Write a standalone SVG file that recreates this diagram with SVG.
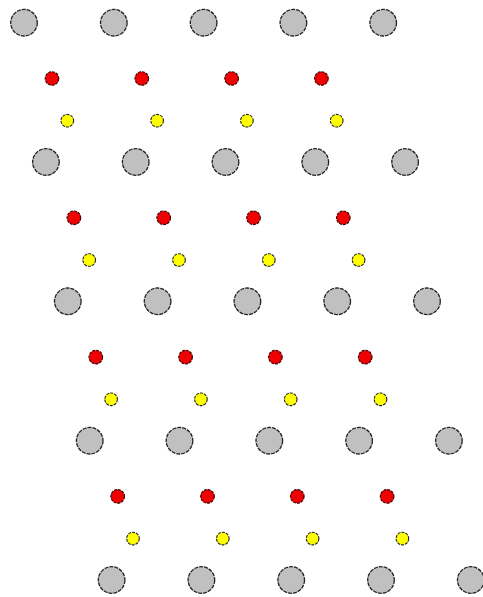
<svg xmlns="http://www.w3.org/2000/svg" width="483" height="597" viewBox="0 0 483 597">
<style>
.g{fill:#c0c0c0;stroke:#222;stroke-width:1.3;stroke-dasharray:4 1}
.r{fill:#f00000;stroke:#300;stroke-width:1.1;stroke-dasharray:3 1}
.y{fill:#ffff00;stroke:#222;stroke-width:1.1;stroke-dasharray:3 1}
</style>
<rect width="483" height="597" fill="#fff"/>
<g id="gray-row-1">
<circle class="g" cx="24" cy="22.7" r="13.3"/><circle class="g" cx="113.8" cy="22.7" r="13.3"/><circle class="g" cx="203.6" cy="22.7" r="13.3"/><circle class="g" cx="293.4" cy="22.7" r="13.3"/><circle class="g" cx="383.2" cy="22.7" r="13.3"/>
</g>
<g id="red-row-1">
<circle class="r" cx="52" cy="78.5" r="6.8"/><circle class="r" cx="141.8" cy="78.5" r="6.8"/><circle class="r" cx="231.6" cy="78.5" r="6.8"/><circle class="r" cx="321.4" cy="78.5" r="6.8"/>
</g>
<g id="yellow-row-1">
<circle class="y" cx="67.3" cy="120.7" r="6.3"/><circle class="y" cx="157.1" cy="120.7" r="6.3"/><circle class="y" cx="246.9" cy="120.7" r="6.3"/><circle class="y" cx="336.7" cy="120.7" r="6.3"/>
</g>
<g id="gray-row-2">
<circle class="g" cx="45.9" cy="162" r="13.3"/><circle class="g" cx="135.7" cy="162" r="13.3"/><circle class="g" cx="225.5" cy="162" r="13.3"/><circle class="g" cx="315.3" cy="162" r="13.3"/><circle class="g" cx="405.1" cy="162" r="13.3"/>
</g>
<g id="red-row-2">
<circle class="r" cx="73.9" cy="217.8" r="6.8"/><circle class="r" cx="163.7" cy="217.8" r="6.8"/><circle class="r" cx="253.5" cy="217.8" r="6.8"/><circle class="r" cx="343.3" cy="217.8" r="6.8"/>
</g>
<g id="yellow-row-2">
<circle class="y" cx="89.2" cy="260" r="6.3"/><circle class="y" cx="179" cy="260" r="6.3"/><circle class="y" cx="268.8" cy="260" r="6.3"/><circle class="y" cx="358.6" cy="260" r="6.3"/>
</g>
<g id="gray-row-3">
<circle class="g" cx="67.8" cy="301.3" r="13.3"/><circle class="g" cx="157.6" cy="301.3" r="13.3"/><circle class="g" cx="247.4" cy="301.3" r="13.3"/><circle class="g" cx="337.2" cy="301.3" r="13.3"/><circle class="g" cx="427" cy="301.3" r="13.3"/>
</g>
<g id="red-row-3">
<circle class="r" cx="95.8" cy="357.1" r="6.8"/><circle class="r" cx="185.6" cy="357.1" r="6.8"/><circle class="r" cx="275.4" cy="357.1" r="6.8"/><circle class="r" cx="365.2" cy="357.1" r="6.8"/>
</g>
<g id="yellow-row-3">
<circle class="y" cx="111.1" cy="399.3" r="6.3"/><circle class="y" cx="200.9" cy="399.3" r="6.3"/><circle class="y" cx="290.7" cy="399.3" r="6.3"/><circle class="y" cx="380.5" cy="399.3" r="6.3"/>
</g>
<g id="gray-row-4">
<circle class="g" cx="89.7" cy="440.7" r="13.3"/><circle class="g" cx="179.5" cy="440.7" r="13.3"/><circle class="g" cx="269.3" cy="440.7" r="13.3"/><circle class="g" cx="359.1" cy="440.7" r="13.3"/><circle class="g" cx="448.9" cy="440.7" r="13.3"/>
</g>
<g id="red-row-4">
<circle class="r" cx="117.7" cy="496.4" r="6.8"/><circle class="r" cx="207.5" cy="496.4" r="6.8"/><circle class="r" cx="297.3" cy="496.4" r="6.8"/><circle class="r" cx="387.1" cy="496.4" r="6.8"/>
</g>
<g id="yellow-row-4">
<circle class="y" cx="133" cy="538.6" r="6.3"/><circle class="y" cx="222.8" cy="538.6" r="6.3"/><circle class="y" cx="312.6" cy="538.6" r="6.3"/><circle class="y" cx="402.4" cy="538.6" r="6.3"/>
</g>
<g id="gray-row-5">
<circle class="g" cx="111.6" cy="580" r="13.3"/><circle class="g" cx="201.4" cy="580" r="13.3"/><circle class="g" cx="291.2" cy="580" r="13.3"/><circle class="g" cx="381" cy="580" r="13.3"/><circle class="g" cx="470.8" cy="580" r="13.3"/>
</g>
</svg>
